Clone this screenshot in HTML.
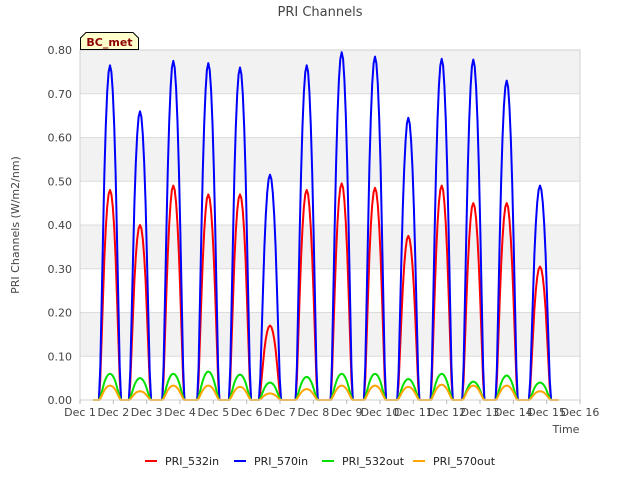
<!DOCTYPE html>
<html><head><meta charset="utf-8"><style>
body{margin:0;background:#fff;font-family:"Liberation Sans","DejaVu Sans",sans-serif;}
svg text{font-family:"DejaVu Sans","Liberation Sans",sans-serif;}
</style></head><body>
<svg id="chart" width="640" height="480" xmlns="http://www.w3.org/2000/svg">
<text x="320" y="16" text-anchor="middle" font-size="13" fill="#444">PRI Channels</text>
<g id="bands"></g>
<g id="grid"></g>
<g id="series"></g>
<g id="axes"></g>
<text x="19" y="225" text-anchor="middle" font-size="11" fill="#444" transform="rotate(-90 19 225)">PRI Channels (W/m2/nm)</text>
<text x="566" y="433" text-anchor="middle" font-size="11" fill="#444">Time</text>
<g>
<path d="M80.5,49.5 L80.5,38 L86,32.5 L133,32.5 L138.5,38 L138.5,49.5 Z" fill="#ffffcc" stroke="#000" stroke-width="1"/>
<text x="109.5" y="46" text-anchor="middle" font-size="11" font-weight="bold" fill="#8b0000">BC_met</text>
</g>
<g id="legend"></g>
</svg>
<script>
const dayCenters=[1.9,2.8,3.8,4.85,5.8,6.7,7.8,8.85,9.85,10.85,11.85,12.8,13.8,14.8];
const peak532in=[0.48,0.40,0.49,0.47,0.47,0.17,0.48,0.495,0.485,0.375,0.49,0.45,0.45,0.305];
const peak570in=[0.765,0.66,0.775,0.77,0.76,0.515,0.765,0.795,0.785,0.645,0.78,0.778,0.73,0.49];
const peak532out=[0.06,0.05,0.06,0.065,0.058,0.04,0.053,0.06,0.06,0.048,0.06,0.042,0.056,0.04];
const peak570out=[0.033,0.02,0.033,0.033,0.03,0.015,0.025,0.033,0.033,0.03,0.035,0.033,0.033,0.02];
const dayProfile=[0,0.1,0.3,0.5,0.68,0.82,0.92,0.98,1,0.98,0.92,0.82,0.68,0.5,0.3,0.1,0];
const yTicks=[0,0.1,0.2,0.3,0.4,0.5,0.6,0.7,0.8];
const xTickLabels=["Dec 1","Dec 2","Dec 3","Dec 4","Dec 5","Dec 6","Dec 7","Dec 8","Dec 9","Dec 10","Dec 11","Dec 12","Dec 13","Dec 14","Dec 15","Dec 16"];
const seriesNames=["PRI_532in","PRI_570in","PRI_532out","PRI_570out"];
const seriesColors=["#ff0000","#0000ff","#00e000","#ffa500"];

const NS="http://www.w3.org/2000/svg";
const L=80,R=580,T=50,B=400;
const xs=d=>L+(d-1)/15*(R-L);
const ys=v=>B-v/0.8*(B-T);
function mk(tag,attrs,parent){const e=document.createElementNS(NS,tag);for(const k in attrs)e.setAttribute(k,attrs[k]);parent.appendChild(e);return e;}
const bands=document.getElementById('bands'),grid=document.getElementById('grid'),axes=document.getElementById('axes'),series=document.getElementById('series'),legend=document.getElementById('legend');
for(let i=0;i<yTicks.length-1;i++){
  const y1=ys(yTicks[i+1]),y0=ys(yTicks[i]);
  const r=mk('rect',{x:L,y:y1,width:R-L,height:y0-y1,fill:(i%2===1)?'#f2f2f2':'#ffffff'},bands);
  
  
}
yTicks.forEach(v=>{
  const y=ys(v);
  const g=mk('line',{x1:L,x2:R,y1:y,y2:y,stroke:'#dcdcdc','stroke-width':1},grid);
  
  
  const t=mk('text',{x:L-8,y:y+4,'text-anchor':'end','font-size':11,fill:'#444'},axes);
  t.textContent=v.toFixed(2);
  
  
});
mk('rect',{x:L,y:T,width:R-L,height:B-T,fill:'none',stroke:'#d0d0d0'},axes);
xTickLabels.forEach((lab,i)=>{
  const x=xs(i+1);
  mk('line',{x1:x,x2:x,y1:B,y2:B+4,stroke:'#bbb'},axes);
  const t=mk('text',{x:x,y:B+16,'text-anchor':'middle','font-size':11,fill:'#444'},axes);
  t.textContent=lab;
  
  
});
const peaks=[peak532in,peak570in,peak532out,peak570out];
peaks.forEach((pk,si)=>{
  let pts=[[xs(1.4),ys(0)]];
  dayCenters.forEach((c,di)=>{
    const n=dayProfile.length,half=(n-1)/2;
    dayProfile.forEach((f,k)=>{
      const d=c+(k-half)/24;
      pts.push([xs(d),ys(pk[di]*f)]);
    });
  });
  pts.push([xs(15.35),ys(0)]);
  const p=mk('polyline',{points:pts.map(p=>p[0].toFixed(1)+','+p[1].toFixed(1)).join(' '),fill:'none',stroke:seriesColors[si],'stroke-width':2,'stroke-linejoin':'round'},series);
  
  
});
const legX=[145,234,322,413];
seriesNames.forEach((n,i)=>{
  const g=mk('g',{},legend);
  
  
  mk('line',{x1:legX[i],x2:legX[i]+12,y1:461,y2:461,stroke:seriesColors[i],'stroke-width':2},g);
  const t=mk('text',{x:legX[i]+20,y:465,'font-size':11,fill:'#222'},g);
  t.textContent=n;
});
</script>
</body></html>
